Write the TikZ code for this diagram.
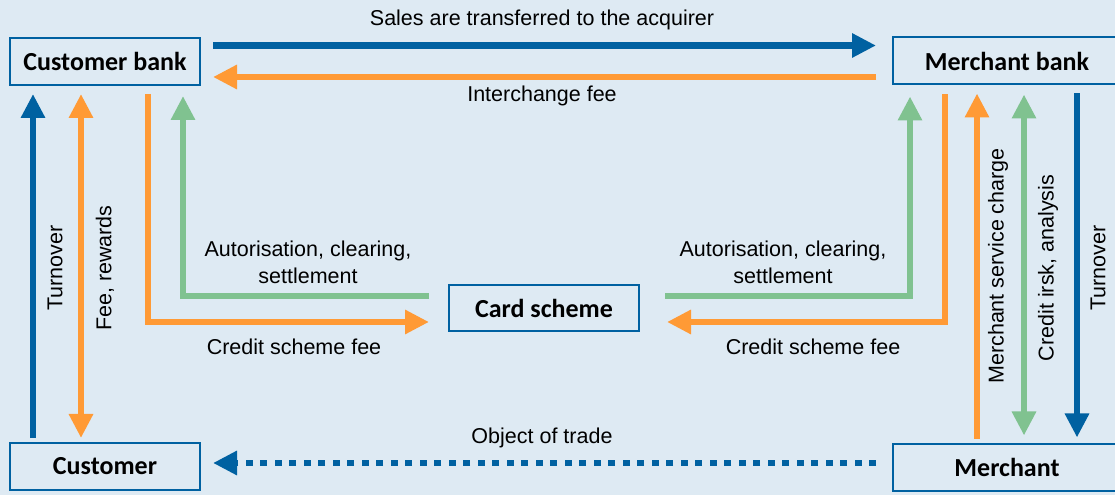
\documentclass[tikz,border=0pt]{standalone}
\usepackage{fontspec}
\setmainfont{Liberation Sans}
\newfontfamily\boxfont{Carlito}
\usetikzlibrary{arrows.meta}
\definecolor{bluex}{HTML}{0061A1}
\definecolor{orangex}{HTML}{FF9A35}
\definecolor{greenx}{HTML}{80C290}
\definecolor{bgx}{HTML}{DEEAF3}
\tikzset{
  box/.style={draw=bluex,line width=2pt,fill=bgx,minimum width=190pt,minimum height=47pt,inner sep=0pt,font=\boxfont\bfseries\fontsize{26}{30}\selectfont},
  lbl/.style={font=\fontsize{21.5}{27}\selectfont,align=center,inner sep=0pt},
  ar/.style={line width=6.5pt,-{Triangle[length=24pt,width=23pt]}},
  dar/.style={line width=6.5pt,{Triangle[length=24pt,width=23pt]}-{Triangle[length=24pt,width=23pt]}},
  ln/.style={line width=6.5pt}
}

\begin{document}
\begin{tikzpicture}[x=1pt,y=1pt]
\fill[bgx] (0,0) rectangle (1115,495);
\useasboundingbox (0,0) rectangle (1115,495);
% boxes
\node[box] (cb) at (105,433.5) {Customer bank};
\node[box] (cu) at (105,28.5) {Customer};
\node[box,minimum width=228pt] (mb) at (1007,434) {Merchant bank};
\node[box,minimum width=228pt] (me) at (1007,28) {Merchant};
\node[box,minimum height=46pt] (cs) at (544,187) {Card scheme};
% top and bottom
\draw[ar,bluex,shorten <=12pt,shorten >=16pt] ([yshift=16pt]cb.east) -- ([yshift=16pt]cb.east -| mb.west);
\draw[ar,orangex,shorten <=16pt,shorten >=12pt] ([yshift=-15.5pt]cb.east -| mb.west) -- ([yshift=-15.5pt]cb.east);
\draw[ar,bluex,dash pattern=on 7pt off 7.5pt,shorten <=16pt,shorten >=12pt] ([yshift=4pt]me.west) -- ([yshift=4pt]me.west -| cu.east);
\node[lbl] (sales) at (542,475) {Sales are transferred to the acquirer};
\node[lbl] (inter) at (542,399) {Interchange fee};
\node[lbl] (trade) at (542,57) {Object of trade};
% left side
\draw[ar,bluex,shorten <=4pt,shorten >=8pt] ([xshift=-72pt]cu.north) -- ([xshift=-72pt]cb.south);
\draw[dar,orangex,shorten <=8pt,shorten >=4pt] ([xshift=-24pt]cb.south) -- ([xshift=-24pt]cu.north);
\draw[ar,orangex,shorten <=8pt,shorten >=19pt] ([xshift=43pt]cb.south) |- ([yshift=-14pt]cs.west);
\draw[ar,greenx,shorten <=19pt,shorten >=10pt] ([yshift=12pt]cs.west) -| ([xshift=78pt]cb.south);
\node[lbl,rotate=90] (turnl) at (55,227) {Turnover};
\node[lbl,rotate=90] (fee) at (105,227) {Fee, rewards};
\node[lbl] (autl) at (308,233) {Autorisation, clearing,\\settlement};
\node[lbl] (csfl) at (294,148) {Credit scheme fee};
% right side
\draw[ar,greenx,shorten <=25pt,shorten >=11pt] ([yshift=12pt]cs.east) -| ([xshift=-97pt]mb.south);
\draw[ar,orangex,shorten <=9pt,shorten >=27pt] ([xshift=-62pt]mb.south) |- ([yshift=-14pt]cs.east);
\draw[ar,orangex,shorten <=4pt,shorten >=8pt] ([xshift=-30pt]me.north) -- ([xshift=-30pt]mb.south);
\draw[dar,greenx,shorten <=9pt,shorten >=7pt] ([xshift=17pt]mb.south) -- ([xshift=17pt]me.north);
\draw[ar,bluex,shorten <=8pt,shorten >=5pt] ([xshift=70pt]mb.south) -- ([xshift=70pt]me.north);
\node[lbl] (autr) at (783,233) {Autorisation, clearing,\\settlement};
\node[lbl] (csfr) at (813,148) {Credit scheme fee};
\node[lbl,rotate=90] (msc) at (998,229) {Merchant service charge};
\node[lbl,rotate=90] (risk) at (1048,227) {Credit irsk, analysis};
\node[lbl,rotate=90] (turnr) at (1098,227) {Turnover};
\end{tikzpicture}
\end{document}
